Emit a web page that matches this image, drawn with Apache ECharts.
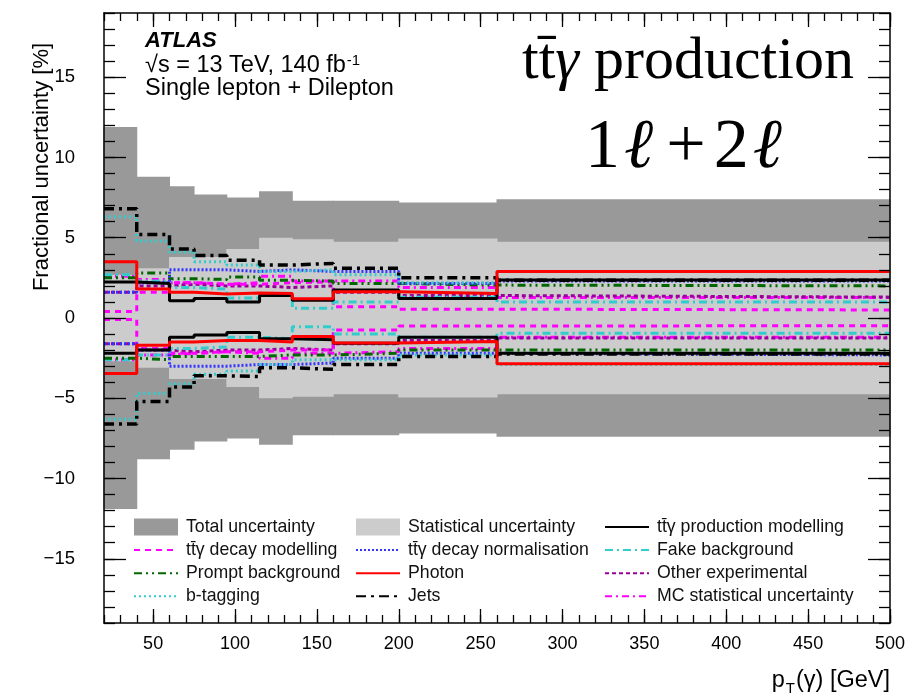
<!DOCTYPE html>
<html>
<head>
<meta charset="utf-8">
<script src="https://cdn.jsdelivr.net/npm/echarts@6/dist/echarts.min.js"></script>
<style>
  html, body { margin: 0; padding: 0; background: #fff; }
  #chart { width: 916px; height: 697px; }
</style>
</head>
<body>
<div id="chart"></div>
<script>
// pT(gamma) bin edges [GeV]
const binEdges = [20, 40, 60, 75, 95, 115, 135, 160, 200, 260, 500];

// Axis tick values
const xMajorTicks = [50, 100, 150, 200, 250, 300, 350, 400, 450, 500];
const yMajorTicks = [-15, -10, -5, 0, 5, 10, 15];

// Symmetric bands [%]
const totalUnc = [11.9, 8.8, 8.2, 7.7, 7.5, 7.9, 7.3, 7.3, 7.2, 7.4];
const statUnc  = [2.7, 3.1, 3.8, 3.8, 4.3, 5.0, 4.9, 4.75, 4.95, 4.75];

// Individual sources, up / down variations [%]
const prodModUp     = [2.25, 2.15, 1.07, 1.22, 1.0, 1.4, 1.1, 1.74, 1.22, 2.36];
const prodModDown   = [-2.2, -2.0, -1.2, -1.06, -0.9, -1.3, -1.35, -1.57, -1.2, -2.2];
const decayModUp    = [0.4, 1.6, 2.2, 2.1, 2.1, 2.2, 2.25, 0.7, 0.55, 0.5];
const decayModDown  = [-0.1, -1.9, -2.2, -2.1, -2.1, -2.0, -2.0, -0.75, -0.5, -0.48];
const decayNormUp   = [1.6, 2.2, 3.0, 3.0, 2.9, 3.0, 2.9, 2.9, 2.15, 2.3];
const decayNormDown = [-1.6, -2.0, -3.0, -3.0, -2.9, -2.9, -2.8, -2.5, -2.2, -2.3];
const fakeBkgUp     = [2.7, 2.3, 1.9, 1.8, 1.25, 1.4, 0.6, 1.0, 1.3, 1.0];
const fakeBkgDown   = [-2.6, -2.3, -1.9, -1.8, -1.2, -1.3, -0.55, -1.0, -1.2, -0.95];
const promptBkgUp   = [2.5, 2.8, 2.45, 2.4, 2.55, 2.35, 2.3, 2.15, 2.05, 2.0];
const promptBkgDown = [-2.5, -2.6, -2.4, -2.4, -2.4, -2.3, -2.3, -2.2, -2.0, -2.0];
const photonUp      = [3.5, 1.8, 1.6, 1.5, 1.55, 1.53, 1.2, 1.63, 1.53, 2.9];
const photonDown    = [-3.45, -1.7, -1.5, -1.4, -1.4, -1.5, -1.15, -1.55, -1.47, -2.85];
const otherExpUp    = [1.6, 2.0, 2.1, 2.0, 2.0, 1.9, 2.0, 1.6, 1.4, 1.3];
const otherExpDown  = [-1.6, -2.0, -2.1, -2.0, -2.0, -1.9, -2.0, -1.6, -1.4, -1.25];
const bTagUp        = [6.3, 4.8, 4.1, 3.5, 3.3, 2.9, 3.0, 2.7, 2.2, 2.9];
const bTagDown      = [-6.3, -4.7, -4.1, -3.5, -3.3, -2.9, -2.6, -2.6, -2.3, -2.9];
const jetsUp        = [6.8, 5.2, 4.3, 3.9, 3.6, 3.3, 3.4, 3.1, 2.5, 2.35];
const jetsDown      = [-6.6, -5.2, -4.3, -3.6, -3.65, -3.1, -3.2, -2.9, -2.4, -2.25];
const mcStatUp      = [2.6, 2.4, 2.2, 2.1, 2.2, 2.6, 2.3, 2.3, 1.9, 1.28];
const mcStatDown    = [-2.6, -2.3, -2.2, -2.1, -2.2, -2.5, -2.2, -2.1, -1.9, -1.2];

const SANS = '"Liberation Sans", Arial, Helvetica, sans-serif';
const SERIF = '"Liberation Serif", "Times New Roman", serif';
const TTG = 'tt\u0304\u03b3';

const NAMES = {
  total: 'Total uncertainty',
  stat: 'Statistical uncertainty',
  prodMod: TTG + ' production modelling',
  decayMod: TTG + ' decay modelling',
  decayNorm: TTG + ' decay normalisation',
  fake: 'Fake background',
  prompt: 'Prompt background',
  photon: 'Photon',
  otherExp: 'Other experimental',
  bTag: 'b-tagging',
  jets: 'Jets',
  mcStat: 'MC statistical uncertainty'
};

// Filled symmetric band, one rectangle per bin
function bandSeries(name, values, color) {
  return {
    name: name,
    type: 'custom',
    xAxisIndex: 0,
    yAxisIndex: 0,
    silent: true,
    z: 1,
    itemStyle: { color: color },
    encode: { x: [0, 1], y: [2, 3] },
    data: values.map((v, i) => [binEdges[i], binEdges[i + 1], v, -v]),
    renderItem: function (params, api) {
      const a = api.coord([api.value(0), api.value(2)]);
      const b = api.coord([api.value(1), api.value(3)]);
      return {
        type: 'rect',
        shape: { x: a[0] - 0.5, y: a[1], width: b[0] - a[0] + 1, height: b[1] - a[1] },
        style: { fill: color }
      };
    }
  };
}

// Histogram-style step outline
function stepSeries(name, values, color, width, dash, z) {
  const pts = values.map((v, i) => [binEdges[i], v]);
  pts.push([binEdges[binEdges.length - 1], values[values.length - 1]]);
  return {
    name: name,
    type: 'line',
    step: 'end',
    xAxisIndex: 0,
    yAxisIndex: 0,
    data: pts,
    symbol: 'none',
    silent: true,
    animation: false,
    z: z || 3,
    itemStyle: { color: color },
    lineStyle: { color: color, width: width, type: dash, cap: 'butt' }
  };
}

function pair(name, up, down, color, width, dash, z) {
  return [stepSeries(name, up, color, width, dash, z), stepSeries(name, down, color, width, dash, z)];
}

const series = [
  bandSeries(NAMES.total, totalUnc, '#999999'),
  bandSeries(NAMES.stat, statUnc, '#cccccc'),
  ...pair(NAMES.mcStat, mcStatUp, mcStatDown, '#ff00ff', 3, [7, 4, 2, 4]),
  ...pair(NAMES.otherExp, otherExpUp, otherExpDown, '#990099', 3, [4, 3]),
  ...pair(NAMES.decayMod, decayModUp, decayModDown, '#ff00ff', 3, [6, 5]),
  ...pair(NAMES.fake, fakeBkgUp, fakeBkgDown, '#33cccc', 3, [8, 4, 2, 4]),
  ...pair(NAMES.prompt, promptBkgUp, promptBkgDown, '#006600', 3, [8, 4, 2, 4, 2, 4]),
  ...pair(NAMES.decayNorm, decayNormUp, decayNormDown, '#3333ff', 3, [2, 2]),
  ...pair(NAMES.bTag, bTagUp, bTagDown, '#33cccc', 3, [2, 3]),
  ...pair(NAMES.prodMod, prodModUp, prodModDown, '#000000', 3, 'solid'),
  ...pair(NAMES.jets, jetsUp, jetsDown, '#000000', 3.5, [10, 5, 3, 5]),
  ...pair(NAMES.photon, photonUp, photonDown, '#ff0000', 3, 'solid', 4)
];

const fmtY = v => (v < 0 ? '\u2212' + Math.abs(v) : String(v));

function xAxisDef(position, major, withLabels) {
  const ax = {
    type: 'value', min: 20, max: 500, position: position, z: 10,
    axisLine: { show: major, onZero: false, lineStyle: { color: '#000', width: 1.5 } },
    splitLine: { show: false },
    axisTick: { show: true, inside: true, length: major ? 14 : 8, lineStyle: { color: '#000', width: 1.3 } },
    axisLabel: { show: false }
  };
  if (major) {
    ax.axisTick.customValues = xMajorTicks;
    if (withLabels) {
      ax.axisLabel = { show: true, customValues: xMajorTicks, fontFamily: SANS, fontSize: 18, color: '#000', margin: 12 };
    }
  } else {
    ax.interval = 10;
  }
  return ax;
}

function yAxisDef(position, major, withLabels) {
  const ax = {
    type: 'value', min: -19, max: 19, position: position, z: 10,
    axisLine: { show: major, onZero: false, lineStyle: { color: '#000', width: 1.5 } },
    splitLine: { show: false },
    axisTick: { show: true, inside: true, length: major ? 22 : 11, lineStyle: { color: '#000', width: 1.3 } },
    axisLabel: { show: false }
  };
  if (major) {
    ax.axisTick.customValues = yMajorTicks;
    if (withLabels) {
      ax.axisLabel = { show: true, customValues: yMajorTicks, formatter: fmtY, fontFamily: SANS, fontSize: 18.5, color: '#000', margin: 29 };
    }
  } else {
    ax.interval = 1;
  }
  return ax;
}

const legendBase = {
  orient: 'vertical',
  top: 518,
  padding: 0,
  itemGap: 5.1,
  itemWidth: 44,
  itemHeight: 17,
  selectedMode: false,
  itemStyle: { opacity: 0 },
  textStyle: { fontFamily: SANS, fontSize: 17.7, lineHeight: 17, color: '#111', padding: [0, 0, 0, 3] }
};

const boxItem = name => ({ name: name, icon: 'rect', itemStyle: { opacity: 1 } });

const option = {
  backgroundColor: '#ffffff',
  animation: false,
  grid: { left: 104, top: 13, right: 26, bottom: 74, containLabel: false },
  xAxis: [
    xAxisDef('bottom', true, true),
    xAxisDef('bottom', false, false),
    xAxisDef('top', true, false),
    xAxisDef('top', false, false)
  ],
  yAxis: [
    yAxisDef('left', true, true),
    yAxisDef('left', false, false),
    yAxisDef('right', true, false),
    yAxisDef('right', false, false)
  ],
  legend: [
    Object.assign({}, legendBase, {
      left: 133,
      data: [boxItem(NAMES.total), { name: NAMES.decayMod }, { name: NAMES.prompt }, { name: NAMES.bTag }]
    }),
    Object.assign({}, legendBase, {
      left: 355,
      data: [boxItem(NAMES.stat), { name: NAMES.decayNorm }, { name: NAMES.photon }, { name: NAMES.jets }]
    }),
    Object.assign({}, legendBase, {
      left: 604,
      data: [{ name: NAMES.prodMod }, { name: NAMES.fake }, { name: NAMES.otherExp }, { name: NAMES.mcStat }]
    })
  ],
  graphic: [
    {
      type: 'text', x: 42, y: 167, rotation: Math.PI / 2, z: 20,
      style: { text: 'Fractional uncertainty [%]', font: '22px ' + SANS, fill: '#000', textAlign: 'center', textVerticalAlign: 'middle' }
    },
    {
      type: 'text', x: 890, y: 681, z: 20,
      style: {
        text: '{n|p}{sub|T}{n|(\u03b3) [GeV]}',
        textAlign: 'right', textVerticalAlign: 'middle',
        rich: {
          n: { font: '23.5px ' + SANS, fill: '#000' },
          sub: { font: '15px ' + SANS, fill: '#000', verticalAlign: 'top', padding: [15, 1, 0, 1] }
        }
      }
    },
    {
      type: 'text', x: 145, y: 41, z: 20,
      style: { text: 'ATLAS', font: 'italic bold 22px ' + SANS, fill: '#000', textVerticalAlign: 'middle' }
    },
    {
      type: 'text', x: 145, y: 66, z: 20,
      style: {
        text: '{n|\u221as = 13 TeV, 140 fb}{s|-1}',
        textVerticalAlign: 'middle',
        rich: {
          n: { font: '23.5px ' + SANS, fill: '#000' },
          s: { font: '15px ' + SANS, fill: '#000', verticalAlign: 'top', padding: [0, 0, 10, 1] }
        }
      }
    },
    {
      type: 'text', x: 145, y: 89, z: 20,
      style: { text: 'Single lepton + Dilepton', font: '23.5px ' + SANS, fill: '#000', textVerticalAlign: 'middle' }
    },
    {
      type: 'text', x: 522, y: 62, z: 20,
      style: {
        text: '{r|tt\u0304}{g|\u03b3}{r| production}',
        textVerticalAlign: 'middle',
        rich: {
          r: { font: '60px ' + SERIF, fill: '#000' },
          g: { font: 'italic 60px ' + SERIF, fill: '#000' }
        }
      }
    },
    {
      type: 'text', x: 686, y: 149, z: 20,
      style: {
        text: '{r|1}{l|\u2113}{p|+}{r|2}{l|\u2113}',
        textAlign: 'center', textVerticalAlign: 'middle',
        rich: {
          r: { font: '70px ' + SERIF, fill: '#000' },
          l: { font: 'italic 70px ' + SERIF, fill: '#000', padding: [0, 5, 0, 4] },
          p: { font: '70px ' + SERIF, fill: '#000', padding: [0, 8, 0, 8] }
        }
      }
    }
  ],
  series: series
};

const chart = echarts.init(document.getElementById('chart'), null, { renderer: 'canvas' });
chart.setOption(option);
</script>
</body>
</html>
